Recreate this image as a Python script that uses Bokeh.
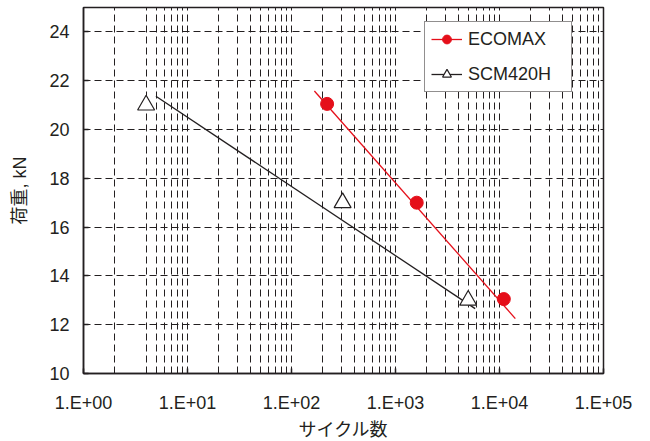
from bokeh.plotting import figure
from bokeh.models import (FixedTicker, Legend, LegendItem)
from bokeh.embed import file_html
from bokeh.resources import INLINE

# ---------------- data ----------------
ecomax_cycles = [220, 1600, 11000]
ecomax_load = [21.05, 17.0, 13.05]
scm_cycles = [4, 310, 5000]
scm_load = [21.0, 17.0, 13.0]

# fitted trend lines (end points)
ecomax_fit_x = [166, 14200]
ecomax_fit_y = [21.58, 12.25]
scm_fit_x = [4.97, 5830]
scm_fit_y = [21.36, 12.66]

x_ticks = [1, 10, 100, 1000, 10000, 100000]
x_tick_labels = ["1.E+00", "1.E+01", "1.E+02", "1.E+03", "1.E+04", "1.E+05"]
y_ticks = [10, 12, 14, 16, 18, 20, 22, 24]
# vertical grid lines as seen in the picture
x_grid = [2, 4, 5, 6, 7, 8, 9, 10,
          20, 30, 40, 50, 60, 70, 80, 90, 100,
          200, 300, 400, 500, 600, 700, 800, 900, 1000,
          2000, 3000, 4000, 5000, 6000, 7000, 8000, 9000, 10000,
          20000, 30000, 40000, 50000, 60000, 70000, 80000, 90000]

x_title = "サイクル数"
y_title = "荷重, kN"
series_names = ["ECOMAX", "SCM420H"]

DARK = "#231f20"
RED = "#e50f1a"
FONT = "Liberation Sans, Noto Sans CJK JP"

p = figure(x_axis_type="log", x_range=(1, 1e5), y_range=(10, 25),
           frame_width=520, frame_height=366,
           min_border_left=83, min_border_right=47, min_border_top=7, min_border_bottom=68,
           output_backend="svg", toolbar_location=None,
           background_fill_color="white", border_fill_color="white")

p.outline_line_color = DARK
p.outline_line_width = 1.5
p.outline_line_alpha = 1

# axes
for ax in (p.xaxis[0], p.yaxis[0]):
    ax.axis_line_color = DARK
    ax.axis_line_width = 1.5
    ax.major_tick_line_color = DARK
    ax.major_tick_line_width = 1.5
    ax.major_tick_in = 5
    ax.major_tick_out = 0
    ax.minor_tick_line_color = None
    ax.major_label_text_font = FONT
    ax.major_label_text_font_size = "18px"
    ax.major_label_text_color = DARK
    ax.axis_label_text_font = FONT
    ax.axis_label_text_font_size = "18px"
    ax.axis_label_text_font_style = "normal"
    ax.axis_label_text_color = DARK

p.xaxis.ticker = FixedTicker(ticks=x_ticks)
p.xaxis.major_label_overrides = {t: lab for t, lab in zip(x_ticks, x_tick_labels)}
p.xaxis.major_label_standoff = 19
p.xaxis.axis_label = x_title
p.xaxis.axis_label_standoff = 4
p.yaxis.ticker = FixedTicker(ticks=y_ticks)
p.yaxis.major_label_standoff = 14
p.yaxis.axis_label = y_title
p.yaxis.axis_label_standoff = 16

# grids
p.xgrid.ticker = FixedTicker(ticks=x_grid)
p.ygrid.ticker = FixedTicker(ticks=y_ticks)
for g in (p.xgrid[0], p.ygrid[0]):
    g.grid_line_color = DARK
    g.grid_line_width = 1
    g.grid_line_dash = "7 4"
    g.grid_line_alpha = 1

# series
r_eco_line = p.line(ecomax_fit_x, ecomax_fit_y, line_color=RED, line_width=1.3)
r_scm_line = p.line(scm_fit_x, scm_fit_y, line_color=DARK, line_width=1.3)
r_eco_pts = p.scatter(ecomax_cycles, ecomax_load, marker="circle", size=13,
                      fill_color=RED, line_color=RED)
r_scm_pts = p.scatter(scm_cycles, scm_load, marker="triangle", size=17,
                      fill_color="white", line_color=DARK, line_width=1.2)

legend = Legend(items=[
    LegendItem(label=series_names[0], renderers=[r_eco_line, r_eco_pts]),
    LegendItem(label=series_names[1], renderers=[r_scm_line, r_scm_pts]),
], location=(341, 281))
legend.label_text_font = FONT
legend.label_text_font_size = "18px"
legend.label_text_color = DARK
legend.border_line_color = DARK
legend.border_line_width = 1
legend.background_fill_color = "white"
legend.background_fill_alpha = 1
legend.padding = 6
legend.spacing = 13
legend.margin = 0
legend.glyph_width = 31
legend.glyph_height = 22
legend.label_height = 22
legend.label_width = 97
legend.label_standoff = 6
p.add_layout(legend, "center")

open("out.html", "w").write(file_html(p, INLINE))
